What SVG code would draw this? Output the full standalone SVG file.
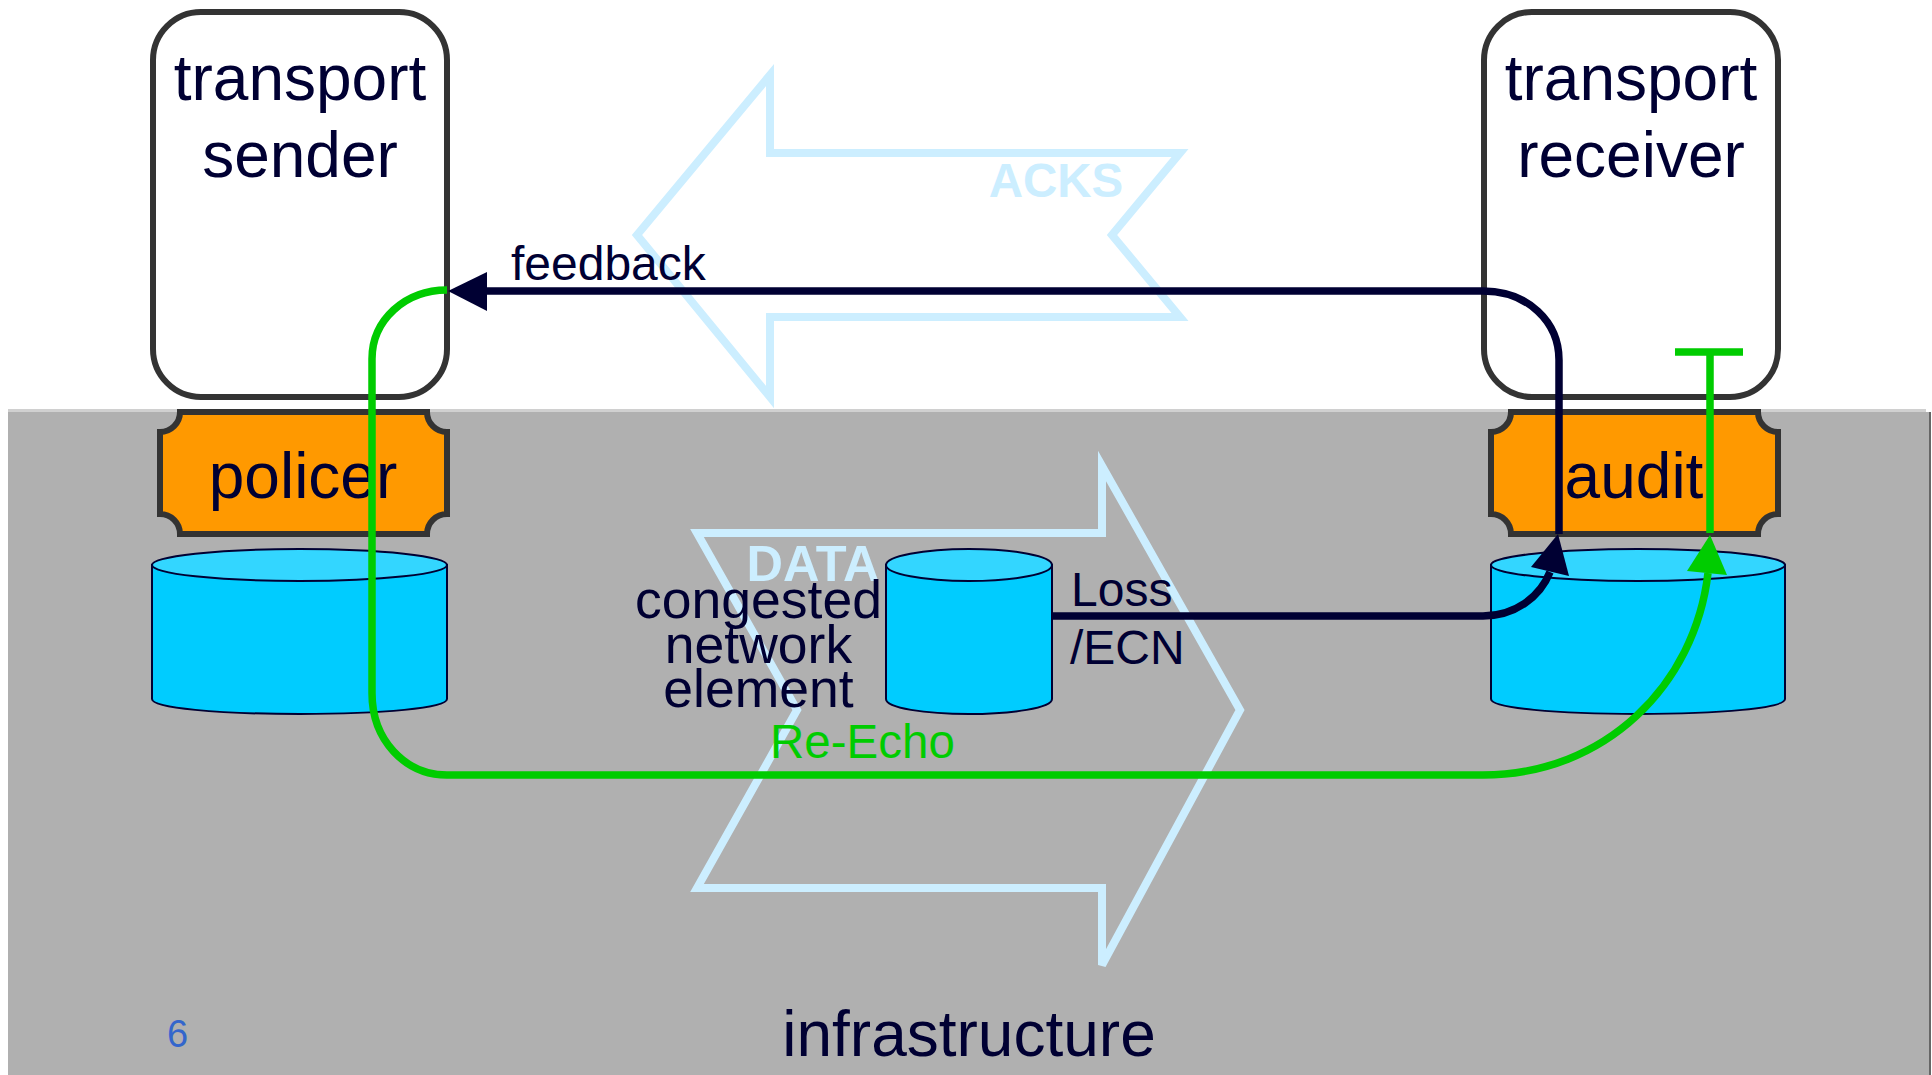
<svg xmlns="http://www.w3.org/2000/svg" width="1932" height="1075" viewBox="0 0 1932 1075">
<style>
text{font-family:"Liberation Sans",Arial,sans-serif;fill:#000033}
.c{text-anchor:middle}
.big{font-size:64px}
.mid{font-size:48px}
.box{fill:#fff;stroke:#333;stroke-width:6}
.plate{fill:#ff9900;stroke:#333;stroke-width:6}
.cyl{fill:#00ccff;stroke:#000033;stroke-width:2}
.top{fill:#33d6ff;stroke:#000033;stroke-width:2}
.flow{fill:none;stroke:#cceeff;stroke-width:8}
.lab{fill:#cceeff;font-weight:bold}
.navy{fill:none;stroke:#000033;stroke-width:7.500}
.green{fill:none;stroke:#00cc00;stroke-width:7.500}
</style>
<g id="infrastructure">
<rect x="8" y="412" width="1921" height="663" fill="#b0b0b0"/>
<rect x="8" y="409" width="1918" height="3" fill="#d0d0d0"/>
<rect x="1929" y="412" width="2" height="663" fill="#666"/>
<text class="c big" x="969" y="1056">infrastructure</text>
<text x="167" y="1047" font-size="38" style="fill:#3366cc">6</text>
</g>
<g id="acks">
<path class="flow" d="M637,235 L770,75 V153 H1180 L1112,235 L1180,317 H770 V397 Z"/>
<text class="lab c" x="1056" y="197" font-size="47.500">ACKS</text>
</g>
<g id="data">
<path class="flow" d="M697,533 H1102 V466 L1240,710 L1102,965 V888 H697 L797,710 Z"/>
<text class="lab c" x="813" y="581" font-size="50.500">DATA</text>
</g>
<g id="sender">
<rect class="box" x="153" y="12" width="294" height="385" rx="48"/>
<text class="c big" x="300" y="100">transport</text>
<text class="c big" x="300" y="177">sender</text>
</g>
<g id="receiver">
<rect class="box" x="1484" y="12" width="294" height="385" rx="48"/>
<text class="c big" x="1631" y="100">transport</text>
<text class="c big" x="1631" y="177">receiver</text>
</g>
<g id="policer">
<path class="plate" d="M180,412 H427 A20,20 0 0 0 447,432 V514 A20,20 0 0 0 427,534 H180 A20,20 0 0 0 160,514 V432 A20,20 0 0 0 180,412 Z"/>
<text class="c big" x="303" y="498">policer</text>
</g>
<g id="audit">
<path class="plate" d="M1511,412 H1758 A20,20 0 0 0 1778,432 V514 A20,20 0 0 0 1758,534 H1511 A20,20 0 0 0 1491,514 V432 A20,20 0 0 0 1511,412 Z"/>
<text class="c big" x="1634" y="498">audit</text>
</g>
<g id="store-policer">
<path class="cyl" d="M152,565 V699 C152,708 218,714 300,714 C382,714 447,708 447,699 V565 Z"/>
<ellipse class="top" cx="299.500" cy="565" rx="147.500" ry="16"/>
</g>
<g id="store-audit">
<path class="cyl" d="M1491,565 V699 C1491,708 1557,714 1638,714 C1720,714 1785,708 1785,699 V565 Z"/>
<ellipse class="top" cx="1638" cy="565" rx="147" ry="16"/>
</g>
<g id="congested">
<path class="cyl" d="M886,565 V699 C886,708 925,714 969,714 C1012,714 1052,708 1052,699 V565 Z"/>
<ellipse class="top" cx="969" cy="565" rx="83" ry="16"/>
<text class="c" x="758.500" y="618" font-size="53.500">congested</text>
<text class="c" x="758.500" y="662.500" font-size="53.500">network</text>
<text class="c" x="758.500" y="707" font-size="53.500">element</text>
</g>
<g id="connectors">
<path class="navy" d="M487,291 H1483 C1528,291 1559,322 1559,360 V534"/>
<polygon fill="#000033" points="448,291 487,272 487,311"/>
<path class="navy" d="M1052,616 H1483 C1515,616 1540,597 1550,572"/>
<polygon fill="#000033" points="1558,534 1531,567 1569,576"/>
<path class="green" d="M447,290 C405,290 372,320 372,359 V693 C372,740 405,775 447,775 H1483 C1605,775 1695,685 1708,573"/>
<polygon fill="#00cc00" points="1710,535 1687,571 1727,575"/>
<path class="green" d="M1710,352 V533 M1675,352 H1743"/>
</g>
<g id="labels">
<text x="511" y="280" font-size="48">feedback</text>
<text class="mid" x="1071" y="606">Loss</text>
<text class="mid" x="1070" y="664">/ECN</text>
<text x="770" y="758" font-size="47.500" style="fill:#00cc00">Re-Echo</text>
</g>
</svg>
